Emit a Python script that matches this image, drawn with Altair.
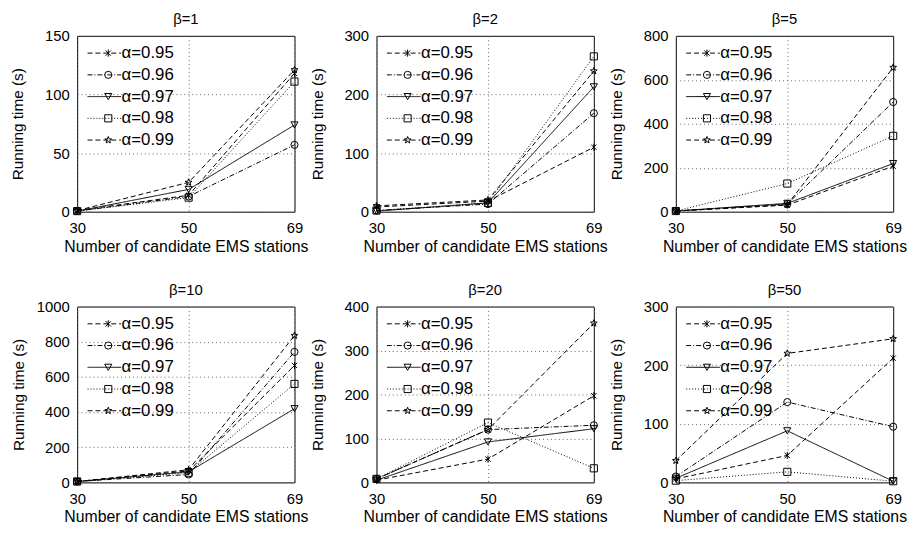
import math
import altair as alt
import pandas as pd

FONT = "Liberation Sans"

# ---- data ----
x_values = [30, 50, 69]
alpha_labels = ["α=0.95", "α=0.96", "α=0.97", "α=0.98", "α=0.99"]
marker_keys = ["m0.95", "m0.96", "m0.97", "m0.98", "m0.99"]
beta_titles = ["β=1", "β=2", "β=5", "β=10", "β=20", "β=50"]
y_max = [150, 300, 800, 1000, 400, 300]
y_step = [50, 100, 200, 200, 100, 100]

# rows: alpha 0.95 .. 0.99 ; columns: x = 30, 50, 69
time_b1 = [[1, 14, 118], [0.5, 13, 57], [0.5, 19, 74], [0.5, 12, 111], [1, 25, 121]]
time_b2 = [[8, 18, 110], [2, 13, 168], [1, 15, 213], [2, 15, 265], [10, 20, 240]]
time_b5 = [[3, 30, 207], [3, 35, 499], [3, 38, 219], [3, 128, 345], [3, 32, 656]]
time_b10 = [[5, 65, 665], [5, 45, 742], [5, 60, 419], [5, 55, 560], [5, 72, 835]]
time_b20 = [[5, 53, 197], [8, 120, 130], [5, 92, 122], [8, 136, 32], [8, 120, 362]]
time_b50 = [[6, 46, 212], [10, 137, 95], [7, 88, 2], [3, 18, 2], [37, 220, 245]]
all_times = [time_b1, time_b2, time_b5, time_b10, time_b20, time_b50]

# ---- styles ----
dash_range = [[5, 3], [5, 2, 1, 2], [1, 0], [1, 2], [5, 3]]
asterisk = "M-0.75,-0.75L0.75,0.75M-0.75,0.75L0.75,-0.75M0,-1L0,1"
star_pts = []
for k in range(10):
    r = 1.0 if k % 2 == 0 else 0.42
    a = math.radians(-90 + 36 * k)
    star_pts.append(f"{r * math.cos(a):.3f},{r * math.sin(a):.3f}")
star = "M" + "L".join(star_pts) + "Z"
shape_range = [asterisk, "circle", "triangle-down", "square", star]

W, H = 220, 178
LEG_X, LEG_Y = 10, 10
LINE_LEN = 34
MSIZE = 52
LEG_FONT = 17
LEG_ROWPAD = 4


def panel(i):
    rows = []
    for a_idx, series in enumerate(all_times[i]):
        for xv, t in zip(x_values, series):
            rows.append({"x": xv, "t": t, "alpha": alpha_labels[a_idx], "alpha_m": marker_keys[a_idx]})
    df = pd.DataFrame(rows)
    yvals = list(range(0, y_max[i] + 1, y_step[i]))
    y_title_pad = 10 if y_max[i] >= 1000 else 19

    x_enc = alt.X(
        "x:Q",
        scale=alt.Scale(domain=[30, 69], nice=False, zero=False),
        axis=alt.Axis(values=x_values, title="Number of candidate EMS stations",
                      grid=True, gridDash=[1, 3], gridColor="#666", domain=False, ticks=False,
                      labelFlush=False, labelPadding=9, titlePadding=3,
                      labelFontSize=15, titleFontSize=16, titleFontWeight="normal",
                      labelFont=FONT, titleFont=FONT, labelColor="black", titleColor="black"),
    )
    y_enc = alt.Y(
        "t:Q",
        scale=alt.Scale(domain=[0, y_max[i]], nice=False),
        axis=alt.Axis(values=yvals, format="d", title="Running time (s)",
                      grid=True, gridDash=[1, 3], gridColor="#666", domain=False, ticks=False,
                      labelFlush=False, labelPadding=8, titlePadding=y_title_pad,
                      labelFontSize=15, titleFontSize=15.5, titleFontWeight="normal",
                      labelFont=FONT, titleFont=FONT, labelColor="black", titleColor="black"),
    )

    lines = alt.Chart(df).mark_line(color="black", strokeWidth=1).encode(
        x=x_enc, y=y_enc,
        strokeDash=alt.StrokeDash(
            "alpha:N",
            scale=alt.Scale(domain=alpha_labels, range=dash_range),
            legend=alt.Legend(orient="none", legendX=LEG_X, legendY=LEG_Y, title=None,
                              symbolType="stroke", symbolSize=LINE_LEN * LINE_LEN,
                              symbolStrokeWidth=1, symbolStrokeColor="black",
                              labelFontSize=LEG_FONT, labelFont=FONT, labelColor="black",
                              labelOffset=0, clipHeight=15, rowPadding=LEG_ROWPAD, padding=0),
        ),
        detail="alpha:N",
    )
    pts = alt.Chart(df).mark_point(filled=False, color="black", strokeWidth=1, size=MSIZE, opacity=1).encode(
        x=x_enc, y=y_enc,
        shape=alt.Shape(
            "alpha_m:N",
            scale=alt.Scale(domain=marker_keys, range=shape_range),
            legend=alt.Legend(orient="none", legendX=LEG_X + LINE_LEN / 2 + 0.5 - 4.5, legendY=LEG_Y, title=None,
                              symbolSize=MSIZE, symbolStrokeWidth=1, symbolStrokeColor="black",
                              symbolFillColor="transparent",
                              labelFontSize=LEG_FONT, labelFont=FONT, labelExpr="''",
                              clipHeight=15, rowPadding=LEG_ROWPAD, padding=0),
        ),
    )
    return alt.layer(lines, pts).properties(
        width=W, height=H,
        title=alt.TitleParams(beta_titles[i], fontSize=15, fontWeight="normal", font=FONT,
                              color="black", offset=2, anchor="middle"),
    )


chart = alt.concat(
    *[panel(i) for i in range(6)],
    columns=3,
    spacing={"row": 96, "column": 83},
    bounds="flush",
).resolve_scale(
    x="independent", y="independent", strokeDash="independent", shape="independent"
).resolve_legend(
    strokeDash="independent", shape="independent"
).configure_view(
    stroke="black", strokeWidth=1
).properties(
    padding={"left": 2, "top": 0, "right": 0, "bottom": 0}
)

chart.save("out.html", embed_options={"renderer": "svg", "actions": False})
